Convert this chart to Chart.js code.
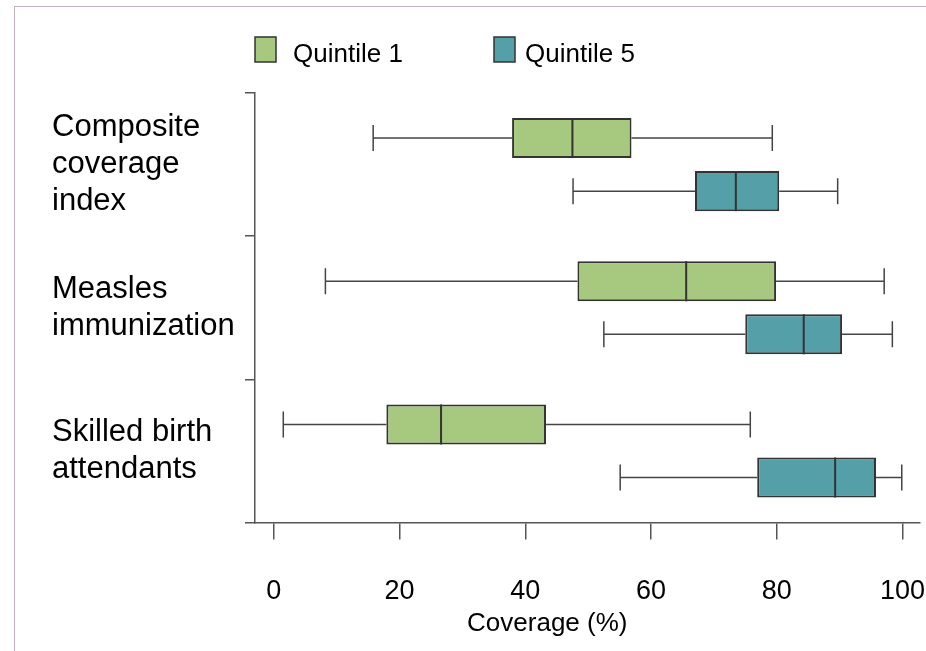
<!DOCTYPE html>
<html>
<head>
<meta charset="utf-8">
<script src="https://cdn.jsdelivr.net/npm/chart.js@4"></script>
<style>
  html, body { margin: 0; padding: 0; background: #fff; }
  #wrap { position: relative; width: 926px; height: 651px; overflow: hidden; }
  #frame { position: absolute; left: 14px; top: 6px; width: 930px; height: 700px;
           border-top: 1px solid #c6b0c0; border-left: 1px solid #c6b0c0; pointer-events: none; }
</style>
</head>
<body>
<div id="wrap">
  <canvas id="chartBox" width="926" height="651"></canvas>
  <div id="frame"></div>
</div>
<script>
// categories (top to bottom)
const categories = [['Composite', 'coverage', 'index'], ['Measles', 'immunization'], ['Skilled birth', 'attendants']];
const seriesNames = ['Quintile 1', 'Quintile 5'];

// Quintile 1 box plot values
const q1Min = [15.8, 8.2, 1.5];
const q1Lower = [37.9, 48.3, 17.9];
const q1Median = [47.5, 65.6, 26.6];
const q1Upper = [56.9, 79.9, 43.3];
const q1Max = [79.3, 97.1, 75.8];

// Quintile 5 box plot values
const q5Min = [47.6, 52.5, 55.1];
const q5Lower = [67.0, 75.0, 76.9];
const q5Median = [73.5, 84.3, 89.3];
const q5Upper = [80.4, 90.4, 95.8];
const q5Max = [89.7, 98.4, 99.9];

const xTickValues = [0, 20, 40, 60, 80, 100];
const xTitle = 'Coverage (%)';

const FONT = 'Liberation Sans, Arial, sans-serif';
const colors = ['#a6c87f', '#559fa8'];

function makeBoxes(lower, upper) {
    return lower.map((v, i) => [v, upper[i]]);
}

// no extra room for overflowing tick labels
function noPad(scale) {
    scale.paddingLeft = 0;
    scale.paddingRight = 0;
    scale.paddingTop = 0;
    scale.paddingBottom = 0;
}

// whiskers under the boxes, medians on top
const boxPlotPlugin = {
    id: 'boxPlot',
    beforeDatasetsDraw(chart) {
        const ctx = chart.ctx;
        const xs = chart.scales.x;
        chart.data.datasets.forEach((ds, d) => {
            const meta = chart.getDatasetMeta(d);
            meta.data.forEach((bar, j) => {
                const y = bar.y;
                const xMin = xs.getPixelForValue(ds.mins[j]);
                const xMax = xs.getPixelForValue(ds.maxs[j]);
                const xLo = xs.getPixelForValue(ds.data[j][0]);
                const xHi = xs.getPixelForValue(ds.data[j][1]);
                ctx.save();
                ctx.strokeStyle = '#444';
                ctx.lineWidth = 1.5;
                ctx.beginPath();
                ctx.moveTo(xMin, y); ctx.lineTo(xLo, y);
                ctx.moveTo(xHi, y); ctx.lineTo(xMax, y);
                ctx.moveTo(xMin, y - 13); ctx.lineTo(xMin, y + 13);
                ctx.moveTo(xMax, y - 13); ctx.lineTo(xMax, y + 13);
                ctx.stroke();
                ctx.restore();
            });
        });
    },
    afterDatasetsDraw(chart) {
        const ctx = chart.ctx;
        const xs = chart.scales.x;
        chart.data.datasets.forEach((ds, d) => {
            const meta = chart.getDatasetMeta(d);
            meta.data.forEach((bar, j) => {
                const xm = xs.getPixelForValue(ds.medians[j]);
                const h = bar.height / 2;
                ctx.save();
                ctx.strokeStyle = '#333';
                ctx.lineWidth = 2;
                ctx.beginPath();
                ctx.moveTo(xm, bar.y - h);
                ctx.lineTo(xm, bar.y + h);
                ctx.stroke();
                ctx.restore();
            });
        });
    }
};

// legend at top and axis title (placed a bit left of centre, as in the original)
const extrasPlugin = {
    id: 'extras',
    afterDraw(chart) {
        const ctx = chart.ctx;
        const left = chart.chartArea.left;
        const boxX = [0, 239];
        const textX = [38, 270];
        chart.data.datasets.forEach((ds, i) => {
            const x = left + boxX[i];
            ctx.save();
            ctx.fillStyle = ds.backgroundColor;
            ctx.strokeStyle = '#333';
            ctx.lineWidth = 1.5;
            ctx.fillRect(x, 37, 21, 25);
            ctx.strokeRect(x, 37, 21, 25);
            ctx.fillStyle = '#000';
            ctx.font = '26px ' + FONT;
            ctx.textBaseline = 'alphabetic';
            ctx.fillText(ds.label, left + textX[i], 62);
            ctx.restore();
        });
        const xs = chart.scales.x;
        ctx.save();
        ctx.fillStyle = '#000';
        ctx.font = '26px ' + FONT;
        ctx.textAlign = 'center';
        ctx.textBaseline = 'middle';
        ctx.fillText(xTitle, xs.getPixelForValue(43.5), 624);
        ctx.restore();
    }
};

new Chart(document.getElementById('chartBox').getContext('2d'), {
    type: 'bar',
    data: {
        labels: categories,
        datasets: [{
            label: seriesNames[0],
            data: makeBoxes(q1Lower, q1Upper),
            mins: q1Min, medians: q1Median, maxs: q1Max,
            backgroundColor: colors[0],
            borderColor: '#333',
            borderWidth: 2,
            borderSkipped: false
        }, {
            label: seriesNames[1],
            data: makeBoxes(q5Lower, q5Upper),
            mins: q5Min, medians: q5Median, maxs: q5Max,
            backgroundColor: colors[1],
            borderColor: '#333',
            borderWidth: 2,
            borderSkipped: false
        }]
    },
    options: {
        indexAxis: 'y',
        responsive: false,
        animation: false,
        categoryPercentage: 0.741,
        barPercentage: 0.755,
        layout: { padding: { left: 52, top: 93, right: 6, bottom: 7 } },
        plugins: {
            legend: { display: false },
            tooltip: { enabled: false }
        },
        scales: {
            x: {
                type: 'linear',
                min: -3,
                max: 102.8,
                afterBuildTicks: (scale) => { scale.ticks = xTickValues.map(v => ({ value: v })); },
                afterFit: noPad,
                grid: { drawOnChartArea: false, tickLength: 17, color: '#555', lineWidth: 1.5 },
                border: { color: '#555', width: 1.5 },
                ticks: { padding: 36, maxRotation: 0, color: '#000', font: { family: FONT, size: 27 } }
            },
            y: {
                type: 'category',
                afterFit: (scale) => { scale.width = 203; noPad(scale); },
                grid: { drawOnChartArea: false, offset: true, tickLength: 10, color: '#555', lineWidth: 1.5 },
                border: { color: '#555', width: 1.5 },
                ticks: {
                    crossAlign: 'far',
                    color: '#000',
                    font: { family: FONT, size: 31, lineHeight: 1.2 }
                }
            }
        }
    },
    plugins: [boxPlotPlugin, extrasPlugin]
});
</script>
</body>
</html>
